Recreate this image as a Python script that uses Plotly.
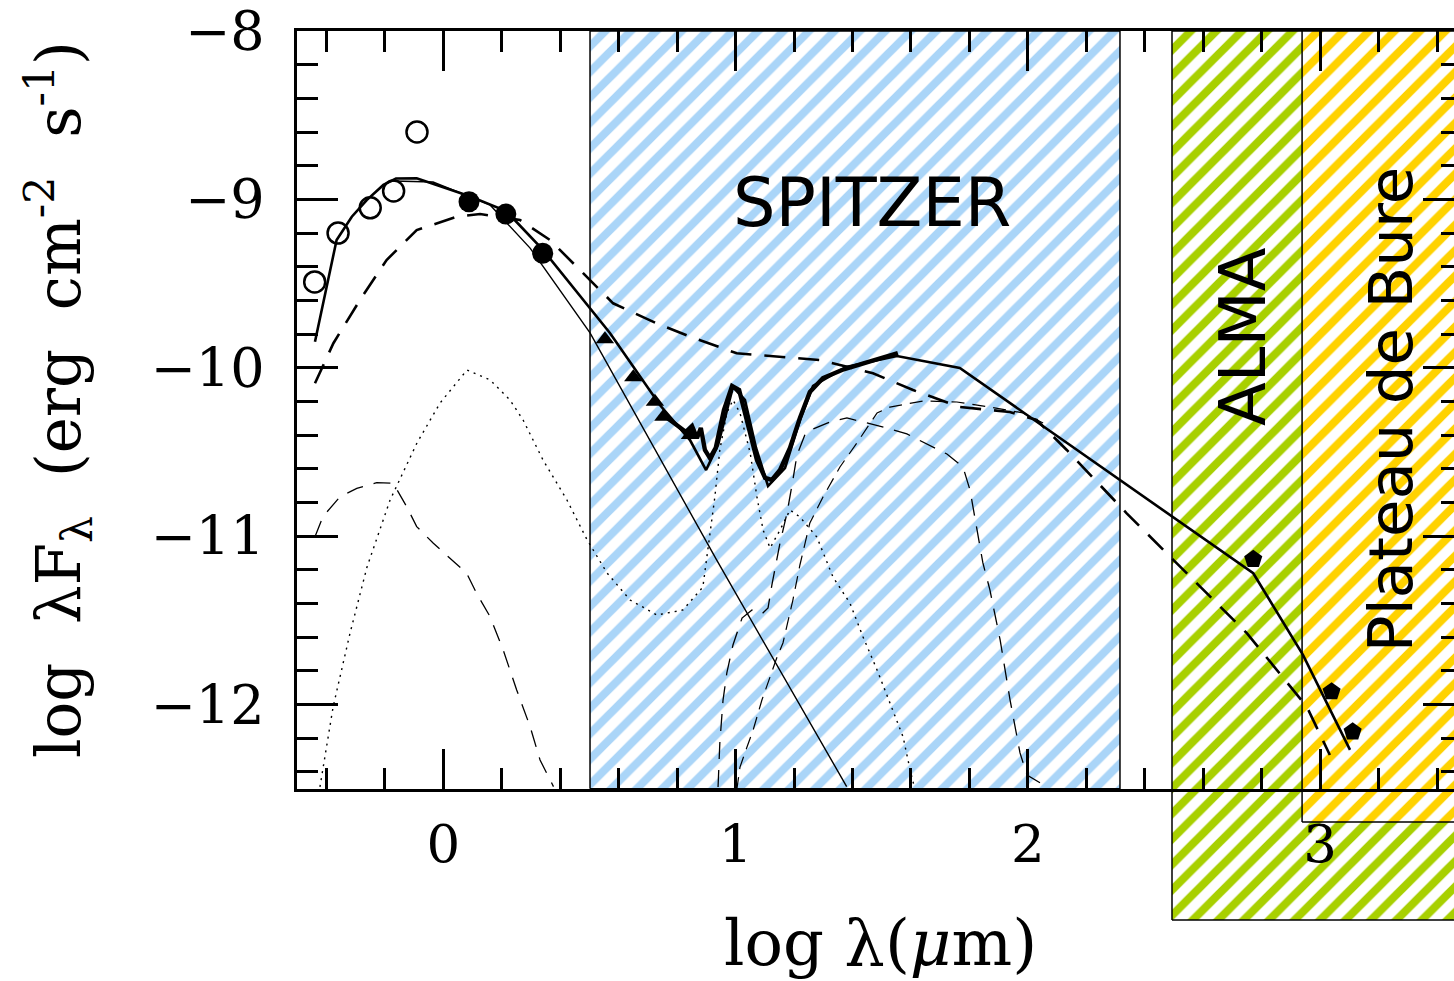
import plotly.graph_objects as go

# ---------------------------------------------------------------------------
# SED data: log wavelength [um] vs log(lambda F_lambda) [erg cm^-2 s^-1]
# ---------------------------------------------------------------------------
# optical / near-IR photometry (open circles)
opt_x = [-0.44, -0.36, -0.25, -0.17, -0.09]
opt_y = [-9.49, -9.20, -9.05, -8.95, -8.60]

# 2MASS-like photometry (filled circles)
nir_x = [0.088, 0.214, 0.340]
nir_y = [-9.014, -9.087, -9.320]

# IRAC / mid-IR photometry (filled triangles)
mir_x = [0.553, 0.650, 0.724, 0.753, 0.844]
mir_y = [-9.831, -10.056, -10.201, -10.290, -10.399]

# sub-mm / mm photometry (filled pentagons)
mm_x = [2.771, 3.039, 3.111]
mm_y = [-11.137, -11.923, -12.161]

# IRS spectrum
irs_x = [0.748, 0.793, 0.830, 0.851, 0.868, 0.881, 0.895, 0.912, 0.932, 0.960,
         0.988, 1.012, 1.042, 1.073, 1.101, 1.124, 1.152, 1.186, 1.220, 1.254,
         1.299, 1.364, 1.432, 1.501, 1.555]
irs_y = [-10.274, -10.334, -10.381, -10.346, -10.417, -10.357, -10.488, -10.536,
         -10.476, -10.251, -10.108, -10.132, -10.340, -10.548, -10.654, -10.666,
         -10.607, -10.476, -10.298, -10.144, -10.061, -10.013, -9.977, -9.942, -9.912]

# total model (solid)
model_x = [-0.439, -0.365, -0.313, -0.262, -0.205, -0.162, -0.091, 0.088, 0.215,
           0.341, 0.570, 0.741, 0.844, 0.899, 0.940, 0.991, 1.032, 1.070, 1.111,
           1.169, 1.220, 1.265, 1.378, 1.552, 1.767, 2.771, 2.941, 3.102]
model_y = [-9.845, -9.241, -9.103, -9.004, -8.914, -8.876, -8.875, -8.980, -9.069,
           -9.300, -9.793, -10.221, -10.429, -10.607, -10.458, -10.114, -10.191,
           -10.476, -10.702, -10.595, -10.310, -10.108, -9.995, -9.930, -10.001,
           -11.220, -11.705, -12.269]

# stellar photosphere (thin solid)
star_x = [-0.172, -0.035, 0.160, 0.297, 0.502, 0.935, 1.380]
star_y = [-8.891, -8.897, -9.033, -9.289, -9.793, -11.141, -12.487]

# alternative total model (thick dashed)
alt_x = [-0.439, -0.376, -0.285, -0.194, -0.091, 0.046, 0.126, 0.262, 0.365, 0.468,
         0.581, 0.730, 0.844, 1.004, 1.290, 1.470, 1.607, 1.767, 1.938, 2.030,
         2.133, 2.338, 2.543, 2.749, 2.954, 3.033]
alt_y = [-10.092, -9.854, -9.597, -9.360, -9.182, -9.103, -9.087, -9.122, -9.241,
         -9.419, -9.617, -9.736, -9.815, -9.914, -9.954, -10.033, -10.132, -10.233,
         -10.262, -10.310, -10.488, -10.864, -11.220, -11.576, -12.012, -12.299]

# hot dust / emission component (dotted)
hot_x = [-0.422, -0.377, -0.319, -0.261, -0.182, -0.090, -0.011, 0.081, 0.160, 0.228,
         0.273, 0.341, 0.423, 0.492, 0.560, 0.639, 0.731, 0.820, 0.888, 0.912, 0.929,
         0.946, 0.970, 0.991, 1.015, 1.050, 1.073, 1.094, 1.118, 1.152, 1.186, 1.220,
         1.278, 1.333, 1.391, 1.436, 1.484, 1.528, 1.573, 1.597, 1.614]
hot_y = [-12.489, -12.014, -11.575, -11.183, -10.785, -10.446, -10.209, -10.013,
         -10.072, -10.191, -10.310, -10.547, -10.785, -11.022, -11.218, -11.379,
         -11.468, -11.438, -11.302, -11.005, -10.767, -10.488, -10.268, -10.191,
         -10.268, -10.506, -10.767, -10.963, -11.070, -10.963, -10.844, -10.886,
         -11.005, -11.242, -11.397, -11.598, -11.794, -11.990, -12.192, -12.388, -12.507]

# scattered light component (thin dashed, short wavelengths)
scat_x = [-0.439, -0.412, -0.353, -0.296, -0.228, -0.171, -0.125, -0.091, -0.034,
          0.023, 0.080, 0.114, 0.160, 0.205, 0.251, 0.297, 0.331, 0.377]
scat_y = [-11.003, -10.884, -10.765, -10.716, -10.682, -10.686, -10.825, -10.943,
          -11.042, -11.131, -11.220, -11.339, -11.478, -11.676, -11.913, -12.131,
          -12.329, -12.487]

# torus component (thin dashed)
torus_x = [0.940, 0.946, 0.957, 0.970, 0.991, 1.022, 1.056, 1.090, 1.111, 1.124,
           1.152, 1.176, 1.193, 1.210, 1.241, 1.323, 1.381, 1.436, 1.518, 1.586,
           1.641, 1.723, 1.778, 1.802, 1.826, 1.846, 1.870, 1.905, 1.939, 1.973,
           1.997, 2.065]
torus_y = [-12.489, -12.228, -11.973, -11.812, -11.646, -11.486, -11.438, -11.462,
           -11.426, -11.290, -11.040, -10.862, -10.696, -10.518, -10.381, -10.322,
           -10.298, -10.322, -10.357, -10.393, -10.440, -10.512, -10.589, -10.726,
           -10.963, -11.159, -11.319, -11.616, -11.973, -12.287, -12.418, -12.489]

# cold dust component (thin dashed)
cold_x = [1.004, 1.015, 1.039, 1.060, 1.090, 1.118, 1.142, 1.162, 1.196, 1.220,
          1.254, 1.299, 1.357, 1.415, 1.484, 1.528, 1.641, 1.757, 1.870, 1.983, 2.052]
cold_y = [-12.507, -12.371, -12.252, -12.151, -11.973, -11.836, -11.717, -11.634,
          -11.379, -11.171, -10.922, -10.767, -10.589, -10.446, -10.268, -10.233,
          -10.197, -10.203, -10.233, -10.268, -10.328]

# instrument coverage bands: name, log-lambda start, log-lambda end, lower edge
band_names = ["SPITZER", "ALMA", "Plateau de Bure"]
band_x0 = [0.502, 2.493, 2.938]
band_x1 = [2.315, 3.60, 3.60]
band_ylow = [-12.5, -13.279, -12.697]
band_colors = ["#aad5f8", "#a8d000", "#ffd200"]

x_ticks = [0, 1, 2, 3]
y_ticks = [-12, -11, -10, -9, -8]
y_ticktext = ["\u221212", "\u221211", "\u221210", "\u22129", "\u22128"]

# ---------------------------------------------------------------------------
# Frame geometry (pixels)
# ---------------------------------------------------------------------------
W, H = 1454, 981
X0_PX, X_SCALE = 443.3, 292.3     # pixel column of log lambda = 0, px per dex
Y8_PX, Y_SCALE = 31.0, 168.4      # pixel row of the -8 level, px per dex
X_MIN = -0.5
Y_MIN, Y_MAX = -12.5, -8.0

left_px = X0_PX + X_MIN * X_SCALE
x_max = (W - X0_PX) / X_SCALE
bottom_px = Y8_PX + (Y_MAX - Y_MIN) * Y_SCALE

main_xdom = [left_px / W, 1.0]
main_ydom = [1 - bottom_px / H, 1 - Y8_PX / H]

# full-page axes sharing the same data scale, used for the coverage bands
bg_xrange = [-X0_PX / X_SCALE, (W - X0_PX) / X_SCALE]
bg_yrange = [Y_MAX - (H - Y8_PX) / Y_SCALE, Y_MAX + Y8_PX / Y_SCALE]

fig = go.Figure()

for name, x0, x1, yl, col in zip(band_names, band_x0, band_x1, band_ylow, band_colors):
    fig.add_trace(go.Scatter(
        x=[x0, x1, x1, x0, x0], y=[yl, yl, Y_MAX, Y_MAX, yl],
        mode="lines", fill="toself", fillcolor="rgba(0,0,0,0)",
        fillpattern=dict(shape="/", size=18, solidity=0.45, fgcolor=col,
                         bgcolor="white", fillmode="replace"),
        line=dict(color="black", width=1.5),
        xaxis="x", yaxis="y", hoverinfo="skip", showlegend=False, name=name))

def line(x, y, width, dash="solid"):
    fig.add_trace(go.Scatter(x=x, y=y, mode="lines",
                             line=dict(color="black", width=width, dash=dash),
                             xaxis="x2", yaxis="y2", showlegend=False))

line(hot_x, hot_y, 1.4, "2px,5px")
line(scat_x, scat_y, 1.3, "17px,11px")
line(torus_x, torus_y, 1.3, "17px,11px")
line(cold_x, cold_y, 1.2, "13px,8px")
line(star_x, star_y, 1.4)
line(alt_x, alt_y, 2.6, "21px,13px")
line(model_x, model_y, 2.6)
line(irs_x, irs_y, 4.4)

def points(x, y, symbol, size, lw=0):
    fig.add_trace(go.Scatter(x=x, y=y, mode="markers",
                             marker=dict(symbol=symbol, size=size, color="black",
                                         line=dict(color="black", width=lw)),
                             xaxis="x2", yaxis="y2", showlegend=False))

points(opt_x, opt_y, "circle-open", 21, 2.5)
points(nir_x, nir_y, "circle", 21)
points(mir_x, mir_y, "triangle-up", 16)
points(mm_x, mm_y, "pentagon", 19)

# carrier for the right-hand tick axis
fig.add_trace(go.Scatter(x=[0], y=[-10], mode="markers", marker=dict(opacity=0),
                         xaxis="x2", yaxis="y3", hoverinfo="skip", showlegend=False))

fig.update_layout(
    width=W, height=H,
    margin=dict(l=0, r=0, t=0, b=0, pad=0, autoexpand=False),
    paper_bgcolor="white", plot_bgcolor="rgba(0,0,0,0)",
    xaxis=dict(domain=[0, 1], range=bg_xrange, visible=False, fixedrange=True,
               automargin=False),
    yaxis=dict(domain=[0, 1], range=bg_yrange, visible=False, fixedrange=True,
               automargin=False),
    xaxis2=dict(domain=main_xdom, range=[X_MIN, x_max], anchor="y2",
                automargin=False, showgrid=False, zeroline=False,
                showline=True, linecolor="black", linewidth=2.6, mirror="ticks",
                ticks="inside", ticklen=40, tickwidth=2.6, tickcolor="black",
                tickvals=x_ticks, ticktext=[str(v) for v in x_ticks],
                tickfont=dict(family="DejaVu Serif", size=53, color="black"),
                ticklabelstandoff=7, ticklabeloverflow="allow",
                minor=dict(dtick=0.2, tick0=0, ticks="inside", ticklen=21,
                           tickwidth=2.6, tickcolor="black", showgrid=False)),
    yaxis2=dict(domain=main_ydom, range=[Y_MIN, Y_MAX], anchor="x2",
                automargin=False, showgrid=False, zeroline=False,
                showline=True, linecolor="black", linewidth=2.6, mirror=False,
                ticks="inside", ticklen=41, tickwidth=2.6, tickcolor="black",
                tickvals=y_ticks, ticktext=y_ticktext,
                tickfont=dict(family="DejaVu Serif", size=54, color="black"),
                ticklabelstandoff=19, ticklabeloverflow="allow",
                minor=dict(dtick=0.2, tick0=0, ticks="inside", ticklen=21,
                           tickwidth=2.6, tickcolor="black", showgrid=False)),
    yaxis3=dict(overlaying="y2", side="right", anchor="x2", range=[Y_MIN, Y_MAX],
                automargin=False, showgrid=False, zeroline=False, showline=False,
                ticks="inside", ticklen=31, tickwidth=2.6, tickcolor="black",
                tickvals=y_ticks, showticklabels=False,
                minor=dict(dtick=0.2, tick0=0, ticks="inside", ticklen=13,
                           tickwidth=2.6, tickcolor="black", showgrid=False)),
)

fig.add_annotation(x=1.467, y=-9.02, xref="x2", yref="y2", text="SPITZER",
                   showarrow=False, xanchor="center", yanchor="middle",
                   font=dict(family="DejaVu Sans", size=67, color="black"))
fig.add_annotation(x=2.736, y=-9.817, xref="x2", yref="y2", text="ALMA",
                   showarrow=False, textangle=-90, xanchor="center", yanchor="middle",
                   font=dict(family="DejaVu Sans", size=64, color="black"))
fig.add_annotation(x=3.239, y=-10.251, xref="x2", yref="y2", text="Plateau de Bure",
                   showarrow=False, textangle=-90, xanchor="center", yanchor="middle",
                   font=dict(family="DejaVu Sans", size=61, color="black"))

nb = "\u00a0"
fig.add_annotation(
    x=880 / W, y=1 - 943 / H, xref="paper", yref="paper",
    xanchor="center", yanchor="middle",
    text="log" + nb + "\u03bb(<i>\u03bc</i>m)", showarrow=False,
    font=dict(family="DejaVu Serif", size=64, color="black"))
fig.add_annotation(
    x=58 / W, y=1 - 400 / H, xref="paper", yref="paper", textangle=-90,
    xanchor="center", yanchor="middle",
    text=("log" + nb * 2 + "\u03bbF<sub>\u03bb</sub>" + nb * 2 + "(erg" + nb * 2
          + "cm<sup>-2</sup>" + nb * 2 + "s<sup>-1</sup>)"),
    showarrow=False, font=dict(family="DejaVu Serif", size=61, color="black"))

fig.write_html("out.html")
